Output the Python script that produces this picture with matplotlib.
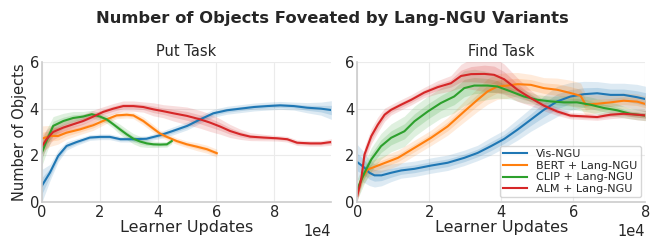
import numpy as np
import matplotlib
matplotlib.use("Agg")
import matplotlib.pyplot as plt

COLORS = {"Vis-NGU": "#1f77b4", "BERT + Lang-NGU": "#ff7f0e",
          "CLIP + Lang-NGU": "#2ca02c", "ALM + Lang-NGU": "#d62728"}
labels = ["Vis-NGU", "BERT + Lang-NGU", "CLIP + Lang-NGU", "ALM + Lang-NGU"]

# ---- Put task (x in 1e4 learner updates) ----
put_vis_x = [0, 0.28, 0.56, 0.85, 1.2, 1.65, 2.0, 2.34, 2.7, 3.15, 3.6, 4.07, 4.5, 5.0, 5.45, 5.9, 6.37, 6.83, 7.3, 7.75, 8.2, 8.67, 9.13, 9.6, 9.96]
put_vis_y = [0.69, 1.26, 1.97, 2.4, 2.57, 2.76, 2.79, 2.79, 2.69, 2.69, 2.71, 2.86, 3.04, 3.26, 3.54, 3.8, 3.93, 4.0, 4.07, 4.11, 4.14, 4.11, 4.04, 4.0, 3.94]
put_vis_s = [0.7, 0.35, 0.25, 0.18, 0.14, 0.12, 0.12, 0.12, 0.12, 0.12, 0.12, 0.14, 0.17, 0.17, 0.17, 0.17, 0.17, 0.17, 0.17, 0.17, 0.17, 0.17, 0.22, 0.28, 0.4]

put_bert_x = [0, 0.28, 0.56, 0.85, 1.31, 1.77, 2.23, 2.57, 2.92, 3.15, 3.49, 3.84, 4.07, 4.3, 4.64, 4.99, 5.33, 5.68, 6.02]
put_bert_y = [2.71, 2.83, 2.83, 2.97, 3.11, 3.29, 3.54, 3.71, 3.74, 3.71, 3.47, 3.14, 2.93, 2.79, 2.61, 2.47, 2.37, 2.26, 2.09]
put_bert_s = [0.55, 0.45, 0.35, 0.28, 0.22, 0.22, 0.17, 0.14, 0.14, 0.14, 0.17, 0.17, 0.14, 0.14, 0.14, 0.14, 0.17, 0.17, 0.17]

put_clip_x = [0, 0.16, 0.39, 0.74, 1.08, 1.42, 1.72, 2.0, 2.23, 2.46, 2.69, 2.92, 3.15, 3.38, 3.61, 3.84, 4.07, 4.3, 4.47]
put_clip_y = [2.11, 2.61, 3.26, 3.47, 3.6, 3.66, 3.76, 3.66, 3.54, 3.33, 3.11, 2.9, 2.71, 2.59, 2.51, 2.47, 2.46, 2.47, 2.61]
put_clip_s = [0.55, 0.5, 0.4, 0.33, 0.28, 0.22, 0.17, 0.17, 0.17, 0.17, 0.22, 0.22, 0.22, 0.22, 0.17, 0.14, 0.12, 0.12, 0.12]

put_alm_x = [0, 0.16, 0.39, 0.74, 1.08, 1.42, 1.77, 2.11, 2.46, 2.8, 3.15, 3.49, 3.84, 4.18, 4.53, 4.99, 5.45, 5.79, 6.14, 6.48, 6.83, 7.17, 7.63, 8.09, 8.44, 8.78, 9.24, 9.6, 9.96]
put_alm_y = [2.37, 2.69, 3.0, 3.19, 3.33, 3.47, 3.66, 3.86, 4.0, 4.11, 4.11, 4.07, 3.97, 3.89, 3.8, 3.69, 3.54, 3.4, 3.23, 3.04, 2.9, 2.8, 2.76, 2.73, 2.69, 2.54, 2.51, 2.51, 2.57]
put_alm_s = [0.45, 0.4, 0.33, 0.28, 0.28, 0.28, 0.28, 0.22, 0.22, 0.22, 0.22, 0.22, 0.28, 0.28, 0.33, 0.38, 0.38, 0.38, 0.33, 0.28, 0.22, 0.17, 0.14, 0.12, 0.12, 0.12, 0.12, 0.12, 0.14]

# ---- Find task ----
find_vis_x = [0, 0.2, 0.34, 0.48, 0.67, 0.94, 1.22, 1.59, 2.05, 2.51, 2.97, 3.34, 3.71, 4.08, 4.45, 4.82, 5.18, 5.55, 5.92, 6.29, 6.66, 7.03, 7.4, 7.77, 8.0]
find_vis_y = [1.71, 1.47, 1.25, 1.14, 1.14, 1.25, 1.35, 1.42, 1.56, 1.68, 1.89, 2.1, 2.39, 2.7, 3.1, 3.53, 3.95, 4.31, 4.52, 4.62, 4.66, 4.59, 4.59, 4.49, 4.41]
find_vis_s = [0.75, 0.65, 0.55, 0.5, 0.45, 0.38, 0.33, 0.33, 0.33, 0.33, 0.33, 0.33, 0.38, 0.38, 0.45, 0.5, 0.6, 0.65, 0.6, 0.55, 0.5, 0.5, 0.5, 0.55, 0.55]

find_bert_x = [0, 0.11, 0.29, 0.66, 1.13, 1.59, 2.05, 2.51, 2.97, 3.34, 3.62, 3.89, 4.17, 4.45, 4.82, 5.18, 5.55, 5.92, 6.2, 6.34, 6.66, 7.03, 7.4, 7.77, 8.0]
find_bert_y = [0.4, 0.97, 1.39, 1.61, 1.89, 2.32, 2.75, 3.24, 3.88, 4.38, 4.74, 4.95, 4.99, 5.05, 5.02, 4.88, 4.81, 4.67, 4.55, 4.17, 4.21, 4.27, 4.34, 4.3, 4.2]
find_bert_s = [0.33, 0.33, 0.33, 0.33, 0.33, 0.33, 0.33, 0.38, 0.45, 0.5, 0.55, 0.55, 0.55, 0.5, 0.45, 0.45, 0.5, 0.55, 0.55, 0.45, 0.38, 0.33, 0.33, 0.33, 0.33]

find_clip_x = [0, 0.2, 0.39, 0.66, 0.94, 1.31, 1.59, 1.96, 2.32, 2.69, 2.97, 3.25, 3.62, 3.89, 4.26, 4.63, 5.0, 5.37, 5.74, 6.1, 6.47, 6.84, 7.21, 7.58, 8.0]
find_clip_y = [0.54, 1.25, 1.82, 2.39, 2.75, 3.03, 3.46, 3.88, 4.24, 4.52, 4.88, 4.99, 4.99, 4.95, 4.74, 4.52, 4.38, 4.31, 4.27, 4.27, 4.17, 4.03, 3.93, 3.78, 3.7]
find_clip_s = [0.45, 0.45, 0.5, 0.55, 0.6, 0.65, 0.65, 0.65, 0.65, 0.7, 0.75, 0.7, 0.6, 0.5, 0.33, 0.28, 0.22, 0.22, 0.28, 0.33, 0.33, 0.33, 0.28, 0.22, 0.22]

find_alm_x = [0, 0.11, 0.2, 0.39, 0.57, 0.76, 0.94, 1.22, 1.5, 1.86, 2.23, 2.6, 2.88, 3.16, 3.53, 3.8, 4.08, 4.45, 4.82, 5.18, 5.55, 5.92, 6.29, 6.66, 7.03, 7.4, 7.77, 8.0]
find_alm_y = [0.26, 0.97, 2.03, 2.82, 3.31, 3.74, 3.95, 4.17, 4.38, 4.69, 4.92, 5.09, 5.4, 5.48, 5.49, 5.45, 5.26, 4.81, 4.45, 4.13, 3.88, 3.7, 3.67, 3.64, 3.74, 3.78, 3.74, 3.71]
find_alm_s = [0.22, 0.33, 0.33, 0.33, 0.33, 0.28, 0.22, 0.22, 0.22, 0.22, 0.28, 0.33, 0.5, 0.65, 0.75, 0.75, 0.65, 0.5, 0.33, 0.22, 0.17, 0.14, 0.14, 0.14, 0.17, 0.17, 0.22, 0.22]

put_series = [(put_vis_x, put_vis_y, put_vis_s), (put_bert_x, put_bert_y, put_bert_s),
              (put_clip_x, put_clip_y, put_clip_s), (put_alm_x, put_alm_y, put_alm_s)]
find_series = [(find_vis_x, find_vis_y, find_vis_s), (find_bert_x, find_bert_y, find_bert_s),
               (find_clip_x, find_clip_y, find_clip_s), (find_alm_x, find_alm_y, find_alm_s)]

TEXT = "#262626"
GRID = "#ebebeb"
SPINE = "#cccccc"

fig = plt.figure(figsize=(6.64, 2.49), dpi=100)
ax1 = fig.add_axes([0.063, 0.189, 0.436, 0.562])
ax2 = fig.add_axes([0.538, 0.189, 0.434, 0.562])

def draw(ax, series, xmax, title):
    for (x, y, s), lab in zip(series, labels):
        x = np.array(x) * 1e4
        y = np.array(y)
        s = np.array(s)
        c = COLORS[lab]
        ax.fill_between(x, y - s, y + s, color=c, alpha=0.15, lw=0)
        ax.fill_between(x, y - 0.5 * s, y + 0.5 * s, color=c, alpha=0.18, lw=0)
        ax.plot(x, y, color=c, lw=1.5, label=lab)
    ax.set_xlim(0, xmax)
    ax.set_ylim(0, 6)
    ax.set_yticks([0, 2, 4, 6])
    ax.set_xticks(np.arange(0, xmax + 1, 2e4))
    ax.ticklabel_format(axis="x", style="sci", scilimits=(4, 4))
    ax.xaxis.get_offset_text().set_fontsize(10.5)
    ax.xaxis.get_offset_text().set_color(TEXT)
    ax.grid(True, color=GRID, lw=0.8)
    ax.set_axisbelow(True)
    for sp in ["top", "right"]:
        ax.spines[sp].set_visible(False)
    for sp in ["left", "bottom"]:
        ax.spines[sp].set_color(SPINE)
        ax.spines[sp].set_linewidth(1.2)
    ax.tick_params(length=0, labelsize=10.5, colors=TEXT, pad=2)
    ax.set_title(title, fontsize=10.5, color=TEXT, pad=4)
    ax.set_xlabel("Learner Updates", fontsize=11.5, color=TEXT, labelpad=0)

draw(ax1, put_series, 9.96e4, "Put Task")
draw(ax2, find_series, 8e4, "Find Task")
ax1.set_ylabel("Number of Objects", fontsize=10.5, color=TEXT, labelpad=2)

leg = ax2.legend(loc="lower right", fontsize=8, frameon=True, handlelength=2.2,
                 borderpad=0.3, labelspacing=0.15, handletextpad=0.8, borderaxespad=0.4)
leg.get_frame().set_edgecolor("#cccccc")
for t in leg.get_texts():
    t.set_color(TEXT)

fig.suptitle("Number of Objects Foveated by Lang-NGU Variants", fontsize=11.8,
             fontweight="bold", color=TEXT, y=0.955)

fig.savefig("out.png", dpi=100)
